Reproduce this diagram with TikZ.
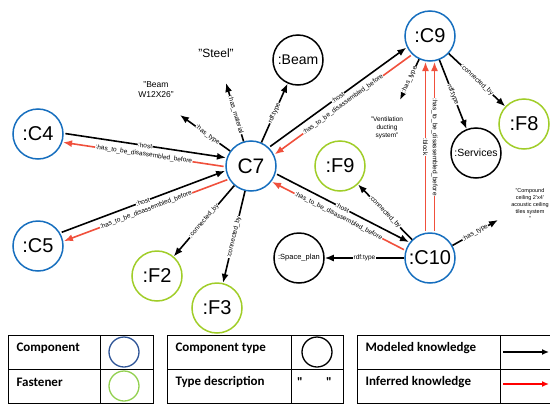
\documentclass[tikz,border=0pt]{standalone}
\usepackage{fontspec}
\setmainfont{Liberation Sans}
\newfontfamily\calibri{Carlito}
\usetikzlibrary{arrows.meta,calc}
\definecolor{cblue}{RGB}{22,110,190}
\definecolor{cgreen}{RGB}{160,205,40}
\definecolor{cred}{RGB}{240,80,60}
\definecolor{lblue}{RGB}{47,85,151}
\definecolor{lgreen}{RGB}{146,208,80}
\newcommand\pairlink[5]{\draw[#1,shorten <=27pt,shorten >=26pt] ($(#2)!4.5pt!90:(#3)$) -- node[lbls]{#5} ($(#3)!4.5pt!-90:(#2)$);}
\begin{document}
\begin{tikzpicture}[x=1pt,y=-1pt,
  comp/.style={circle,draw=cblue,line width=1.5pt,minimum size=50pt,inner sep=0pt,font=\fontsize{20}{20}\selectfont},
  fast/.style={comp,draw=cgreen},
  ctype/.style={comp,draw=black},
  modeled/.style={line width=1.6pt,-{Latex[length=9pt,width=7pt]}},
  inferred/.style={line width=1.6pt,draw=cred,-{Latex[length=9pt,width=7pt]}},
  lbl/.style={font=\fontsize{6.5}{6.5}\selectfont,fill=white,inner sep=0.4pt,midway,text=black},
  lbls/.style={lbl,sloped},
  tbl/.style={line width=0.8pt},
  ltxt/.style={anchor=west,font=\calibri\bfseries\fontsize{13}{13}\selectfont},
  lcirc/.style={circle,line width=1.3pt,minimum size=30pt,inner sep=0pt}
]
\useasboundingbox (0,0) rectangle (550,405);

% nodes
\node[comp,font=\fontsize{21}{21}\selectfont] (c7) at (251,166) {C7};
\node[comp] (c4) at (38,134) {:C4};
\node[comp] (c5) at (38,246) {:C5};
\node[comp] (c9) at (430,36) {:C9};
\node[comp] (c10) at (430,258) {:C10};
\node[fast] (f2) at (157,276) {:F2};
\node[fast] (f3) at (217,308) {:F3};
\node[fast] (f9) at (340,166) {:F9};
\node[fast] (f8) at (524,124) {:F8};
\node[ctype,font=\fontsize{14}{14}\selectfont] (beam) at (298,60) {:Beam};
\node[ctype,font=\fontsize{10.5}{10.5}\selectfont] (services) at (476,153) {:Services};
\node[ctype,font=\fontsize{7.5}{7.5}\selectfont] (space) at (299,258) {:Space\_plan};

% text nodes
\node[font=\fontsize{12}{12}\selectfont] (steel) at (216,53) {"Steel"};
\node[font=\fontsize{8.5}{10}\selectfont,align=center] (bw) at (156,90) {"Beam\\W12X26"};
\node[font=\fontsize{6.5}{8}\selectfont,align=center] (vent) at (387,128) {"Ventilation\\ducting\\system"};
\node[font=\fontsize{5.5}{7}\selectfont,align=center] (compound) at (530,205) {"Compound\\ceiling 2'x4'\\acoustic ceiling\\tiles system\\"};

\coordinate (steelend) at (226,83);
\coordinate (bwend) at (180,115);
\coordinate (ventend) at (400,100);
\coordinate (compend) at (498,220);

% modeled single edges
\draw[modeled] (c7) -- node[lbls,pos=0.45]{:has\_type} (bwend);
\draw[modeled] (c7) -- node[lbls,pos=0.45]{:has\_material} (steelend);
\draw[modeled] (c7) -- node[lbls]{rdf:type} (beam);
\draw[modeled] (c7) -- node[lbls]{:connected\_by} (f2);
\draw[modeled] (c7) -- node[lbls]{:connected\_by} (f3);
\draw[modeled] (c9) -- node[lbls]{:has\_type} (ventend);
\draw[modeled] (c9) -- node[lbls]{rdf:type} (services);
\draw[modeled] (c9) -- node[lbls]{:connected\_by} (f8);
\draw[modeled] (c10) -- node[lbls]{:connected\_by} (f9);
\draw[modeled] (c10) -- node[lbls]{rdf:type} (space);
\draw[modeled] (c10) -- node[lbls]{:has\_type} (compend);

% paired edges
\pairlink{modeled}{c4}{c7}{}{:host}
\pairlink{inferred}{c7}{c4}{}{:has\_to\_be\_disassembled\_before}
\pairlink{modeled}{c5}{c7}{}{:host}
\pairlink{inferred}{c7}{c5}{}{:has\_to\_be\_disassembled\_before}
\pairlink{modeled}{c7}{c9}{}{:host}
\pairlink{inferred}{c9}{c7}{}{:has\_to\_be\_disassembled\_before}
\pairlink{modeled}{c7}{c10}{}{:host}
\pairlink{inferred}{c10}{c7}{}{:has\_to\_be\_disassembled\_before}

\draw[inferred,shorten <=27pt,shorten >=26pt] ($(c10)!4.5pt!90:(c9)$) -- node[lbl,rotate=-90]{:block} ($(c9)!4.5pt!-90:(c10)$);
\draw[inferred,shorten <=27pt,shorten >=26pt] ($(c10)!4.5pt!-90:(c9)$) -- node[lbl,rotate=-90]{:has\_to\_be\_disassembled\_before} ($(c9)!4.5pt!90:(c10)$);

% legend
\draw[tbl] (8,335) rectangle (153,403);
\draw[tbl] (100,335) -- (100,403);
\draw[tbl] (8,369) -- (153,369);
\node[ltxt] (lt1) at (13,348) {Component};
\node[ltxt] (lt2) at (13,382) {Fastener};
\node[lcirc,draw=lblue] (lc1) at (124,352) {};
\node[lcirc,draw=lgreen] (lc2) at (124,386) {};

\draw[tbl] (167,335) rectangle (343,403);
\draw[tbl] (291,335) -- (291,403);
\draw[tbl] (167,369) -- (343,369);
\node[ltxt] (lt3) at (172,348) {Component type};
\node[ltxt] (lt4) at (172,382) {Type description};
\node[lcirc,draw=black] (lc3) at (317,352) {};
\node[font=\calibri\bfseries\fontsize{13}{13}\selectfont] (q1) at (300,382) {"};
\node[font=\calibri\bfseries\fontsize{13}{13}\selectfont] (q2) at (329,382) {"};

\draw[tbl] (357,335) rectangle (553,403);
\draw[tbl] (500,335) -- (500,403);
\draw[tbl] (357,369) -- (553,369);
\node[ltxt] (lt5) at (362,348) {Modeled knowledge};
\node[ltxt] (lt6) at (362,382) {Inferred knowledge};
\coordinate (ma) at (503,352);
\coordinate (mb) at (549,352);
\coordinate (ia) at (503,384);
\coordinate (ib) at (549,384);
\draw[line width=1.3pt,-{Latex[length=7pt,width=6pt]}] (ma) -- (mb);
\draw[line width=1.3pt,red,-{Latex[length=7pt,width=6pt]}] (ia) -- (ib);
\end{tikzpicture}
\end{document}
